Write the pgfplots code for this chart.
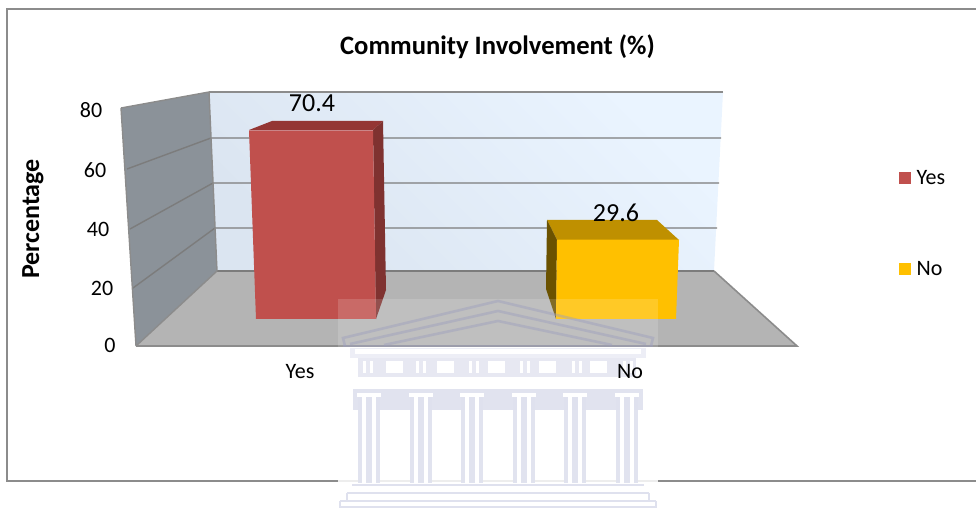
\documentclass[border=0pt]{standalone}
\usepackage{fontspec}
\setmainfont{Carlito}
\usepackage{pgfplots}
\pgfplotsset{compat=1.18}
\definecolor{gridc}{HTML}{8C8C8C}
\definecolor{gridw}{HTML}{7C7C7C}
\definecolor{wallL}{HTML}{8B9299}
\definecolor{floorc}{HTML}{B4B4B4}
\definecolor{redF}{HTML}{C0504D}
\definecolor{redT}{HTML}{943634}
\definecolor{redS}{HTML}{7F3230}
\definecolor{yelF}{HTML}{FFC000}
\definecolor{yelT}{HTML}{BF9000}
\definecolor{yelS}{HTML}{6B5200}
\definecolor{wmL}{HTML}{DFE1EE}
\definecolor{wmD}{HTML}{9C9EBE}
\definecolor{backB}{HTML}{DBE5F1}
\definecolor{backT}{HTML}{EAF4FF}
\pgfplotsset{base/.style={at={(0,0)},anchor=south west,width=976pt,height=510pt,
  scale only axis,hide axis,clip=false,xmin=0,xmax=976}}
\begin{document}
\begin{tikzpicture}[x=1pt,y=1pt]
\path[use as bounding box] (0,0) rectangle (976pt,510pt);
% pixel axis: chart furniture
\begin{axis}[base,ymin=0,ymax=510,y dir=reverse]
\addplot[draw=gridc,line width=1.6pt,forget plot] coordinates {(978,9)(7,9)(7,481)(978,481)};
\addplot[fill=floorc,draw=none] coordinates {(217,271)(714,271)(797,346)(136,346)} --cycle;
\addplot[draw=none,bottom color=backB,top color=backT,shading angle=-45] coordinates {(209,92)(723,92)(714,271)(217,271)} --cycle;
\addplot[fill=wallL,draw=none] coordinates {(121,108)(209,92)(217,271)(136,346)} --cycle;
\addplot[draw=gridc,line width=1.4pt] coordinates {(723,92)(209,92)};
\addplot[draw=gridw,line width=1.4pt] coordinates {(721,138)(211,138)(127,169)};
\addplot[draw=gridw,line width=1.4pt] coordinates {(719,183)(213,183)(130,229)};
\addplot[draw=gridw,line width=1.4pt] coordinates {(717,228)(215,228)(133,288)};
\addplot[draw=gridw,line width=1.4pt] coordinates {(714,271)(217,271)};
\addplot[draw=gridc,line width=1.4pt] coordinates {(121,108)(209,92)};
\addplot[draw=gridc,line width=1.4pt] coordinates {(209,92)(217,271)(136,346)};
\addplot[draw=gridc,line width=1.4pt] coordinates {(121,108)(136,346)};
\addplot[draw=gridc,line width=1.6pt] coordinates {(136,346)(797,346)(714,271)};
% bar sides and tops
\addplot[fill=redT,draw=none] coordinates {(249,130)(272,121)(383,121)(373,130)} --cycle;
\addplot[fill=redS,draw=none] coordinates {(373,130)(383,121)(386,290)(376,319)} --cycle;
\addplot[fill=yelT,draw=none] coordinates {(547,220)(657,220)(679,240)(557,240)} --cycle;
\addplot[fill=yelS,draw=none] coordinates {(547,220)(557,240)(556,319)(546,289)} --cycle;
% legend swatches
\addplot[fill=redF,draw=none] coordinates {(899,172)(911,172)(911,184)(899,184)} --cycle;
\addplot[fill=yelF,draw=none] coordinates {(899,263)(911,263)(911,275)(899,275)} --cycle;
% texts
\node[font=\fontsize{26.6}{26.6}\selectfont\bfseries] at (497.5,47) {Community Involvement (\%)};
\node[font=\fontsize{26}{26}\selectfont\bfseries,rotate=90] at (33,219) {Percentage};
\node[font=\fontsize{22}{22}\selectfont] at (91,110) {80};
\node[font=\fontsize{22}{22}\selectfont] at (95,170) {60};
\node[font=\fontsize{22}{22}\selectfont] at (98,229) {40};
\node[font=\fontsize{22}{22}\selectfont] at (102,288) {20};
\node[font=\fontsize{22}{22}\selectfont] at (110,345) {0};
\node[font=\fontsize{22}{22}\selectfont,anchor=west] at (913,178) {Yes};
\node[font=\fontsize{22}{22}\selectfont,anchor=west] at (913,269) {No};
\end{axis}
% data axis: values in percent, front faces of the bars
\begin{axis}[base,ymin=-71.27,ymax=119.03]
\addplot[fill=redF,draw=none] coordinates {(256,0)(249,70.4)(373,70.4)(376,0)} --cycle;
\addplot[fill=yelF,draw=none] coordinates {(556,0)(557,29.6)(679,29.6)(676,0)} --cycle;
\node[font=\fontsize{26}{26}\selectfont] at (312,70.4) [yshift=27pt] {70.4};
\node[font=\fontsize{26}{26}\selectfont] at (616,29.6) [yshift=27pt] {29.6};
\end{axis}
% university watermark
\begin{scope}[shift={(0,510pt)},x=1pt,y=-1pt]
\fill[white,opacity=.15] (338,299) rectangle (658,347);
\fill[white,opacity=.85] (338,347) rectangle (658,508);
\begin{scope}[opacity=.45,draw=wmD,line width=2.6pt,line join=miter]
\draw (345,346) -- (343,338) -- (498,301) -- (653,338) -- (651,346);
\draw (350,344) -- (498,311) -- (646,344);
\draw (384,345) -- (498,321) -- (612,345);
\draw[line width=1.6pt] (343,346) -- (653,346);
\end{scope}
% entablature
\fill[wmL,opacity=.55] (350,348) rectangle (646,358);
\fill[white] (355,349) rectangle (641,354);
\fill[wmL,opacity=.75] (358,358) rectangle (636,377);
\foreach \xx in {386,437,488,539,590} {\fill[white] (\xx,361) rectangle (\xx+17,373);}
\foreach \xx in {360,413,466,517,569,620} {
  \fill[white] (\xx+3,361) rectangle (\xx+6,373);
  \fill[white] (\xx+10,361) rectangle (\xx+13,373);
}
\fill[white] (362,378) rectangle (632,388);
\fill[wmL,opacity=.9] (353,389) rectangle (643,410);
\foreach \xx in {369,421,472,524,575,627} {
  \fill[white] (\xx-12,393) rectangle (\xx+12,397);
  \fill[wmL,opacity=.9] (\xx-11,397) rectangle (\xx+11,483);
  \fill[white] (\xx-7,397) rectangle (\xx-3,483);
  \fill[white] (\xx+3,397) rectangle (\xx+7,483);
}
\foreach \a/\b/\c in {352/644/485,347/649/493,340/656/501} {
  \draw[wmL,line width=1.8pt] (\a,\c) -- (\b,\c);
}
\draw[wmL,line width=1.8pt] (340,501) -- (340,507) -- (656,507) -- (656,501);
\draw[wmL,line width=1.5pt] (347,493) -- (347,501);
\draw[wmL,line width=1.5pt] (649,493) -- (649,501);
\node[font=\fontsize{22}{22}\selectfont] at (300,372) {Yes};
\node[font=\fontsize{22}{22}\selectfont] at (630,372) {No};
\end{scope}
\end{tikzpicture}
\end{document}
